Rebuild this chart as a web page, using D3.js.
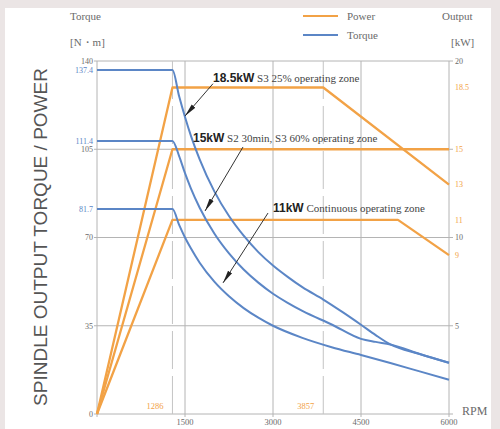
<!DOCTYPE html>
<html><head><meta charset="utf-8">
<script src="https://cdn.jsdelivr.net/npm/d3@7"></script>
<style>body{margin:0;background:#ebe5e5}svg{display:block}</style>
</head><body><script>
// ---- data ----
const rpmTicks = [1500, 3000, 4500, 6000];
const torqueTicks = [0, 35, 70, 105, 140];
const powerTicks = [5, 10, 20];
const powerMarks = [18.5, 15, 13, 11, 9];
const powerMarkLabels = ["18.5", "15", "13", "11", "9"];
const torqueMarks = [136.4, 108.3, 81.3];
const torqueMarkLabels = ["137.4", "111.4", "81.7"];
const speedMarks = [1286, 3857];
const speedMarkLabels = ["1286", "3857"];

const s3Power = [[0,0],[1286,18.5],[3857,18.5],[6000,13]];
const s2Power = [[0,0],[1286,15],[6000,15]];
const s1Power = [[0,0],[1286,11],[5130,11],[6000,9]];

const s3Torque = [[0,136.4],[1286,136.4],[1400,126],[1500,117.8],[1600,110.4],[1750,101],[2000,88.3],[2250,78.5],[2500,70.7],[2750,64.2],[3000,58.9],[3250,54.4],[3500,50.3],[3857,45.4],[4200,40.2],[4500,35.4],[4750,31.3],[5000,27.6],[5500,23.8],[6000,20.3]];
const s2Torque = [[0,108.3],[1286,108.3],[1400,102.3],[1500,95.5],[1600,89.5],[1750,81.8],[2000,71.6],[2250,63.7],[2500,57.3],[2750,52.1],[3000,47.7],[3250,44.1],[3500,40.9],[4000,35.5],[4500,29.8],[4750,28.6],[5000,27.6],[5500,23.8],[6000,20.3]];
const s1Torque = [[0,81.3],[1286,81.3],[1400,75],[1500,70],[1600,65.7],[1750,60],[2000,52.5],[2250,46.7],[2500,42],[2750,38.2],[3000,35],[3500,30.2],[4000,26.5],[4500,23.4],[5000,20.2],[5500,16.9],[6000,13.6]];

const zoneNames = ["18.5kW", "15kW", "11kW"];
const zoneTexts = [" S3 25% operating zone", " S2 30min, S3 60% operating zone", " Continuous operating zone"];
// annotation anchors in data space: [text rpm, text torque, arrow start rpm, torque, arrow tip rpm, torque]
const zoneAnchors = [[1977,131.7,1977,131,1500,118.2],[1636,107.9,2489,105.9,1841,80.5],[3000,80.1,2915,79.7,2148,52]];

// ---- chart ----
const W = 500, H = 429;
const svg = d3.select("body").append("svg").attr("width", W).attr("height", H);
svg.append("rect").attr("x",5).attr("y",8).attr("width",486).attr("height",421).attr("fill","#fff");

const x = d3.scaleLinear().domain([0,6000]).range([97,449]);
const yT = d3.scaleLinear().domain([0,140]).range([414,61]);
const yP = d3.scaleLinear().domain([0,20]).range([414,61]);

const ORANGE = "#f2a246", BLUE = "#5b86c6", GRID = "#b4b4b4", TXT = "#6a6a6a";
const serif = "'Liberation Serif','Times New Roman',serif";
const sans = "'Liberation Sans',Arial,sans-serif";

// gridlines
const g = svg.append("g");
g.selectAll(".hg").data(torqueTicks).join("line")
  .attr("x1", 94).attr("x2", 453).attr("y1", d=>yT(d)).attr("y2", d=>yT(d))
  .attr("stroke", GRID).attr("stroke-width", 1);
g.selectAll(".vg").data([0].concat(rpmTicks)).join("line")
  .attr("x1", d=>x(d)).attr("x2", d=>x(d)).attr("y1", yT(140)).attr("y2", 417)
  .attr("stroke", GRID).attr("stroke-width", 1);
g.selectAll(".dg").data(speedMarks).join("line")
  .attr("x1", d=>x(d)).attr("x2", d=>x(d)).attr("y1", yT(140)).attr("y2", 414)
  .attr("stroke", "#c4c4c4").attr("stroke-width", 1).attr("stroke-dasharray", "38,7");

// axis labels
const lbl = svg.append("g").attr("font-family", serif);
lbl.selectAll(".lt").data(torqueTicks).join("text")
  .attr("x", 93).attr("y", d=>yT(d)).attr("dy","0.35em").attr("text-anchor","end")
  .attr("font-size", 8).attr("fill", TXT).text(d=>d);
lbl.selectAll(".lm").data(torqueMarks).join("text")
  .attr("x", 93).attr("y", d=>yT(d)).attr("dy","0.35em").attr("text-anchor","end")
  .attr("font-size", 8).attr("fill", BLUE).text((d,i)=>torqueMarkLabels[i]);
lbl.selectAll(".rt").data(powerTicks).join("text")
  .attr("x", 455).attr("y", d=>yP(d)).attr("dy","0.35em")
  .attr("font-size", 8).attr("fill", TXT).text(d=>d);
lbl.selectAll(".rm").data(powerMarks).join("text")
  .attr("x", 455).attr("y", d=>yP(d)).attr("dy","0.35em")
  .attr("font-size", 8).attr("fill", ORANGE).text((d,i)=>powerMarkLabels[i]);
lbl.selectAll(".bt").data(rpmTicks).join("text")
  .attr("x", d=>x(d)).attr("y", 425).attr("text-anchor","middle")
  .attr("font-size", 8.5).attr("fill", TXT).text(d=>d);
lbl.selectAll(".sm").data(speedMarks).join("text")
  .attr("x", d=>x(d)-9).attr("y", 409).attr("text-anchor","end")
  .attr("font-size", 8.5).attr("fill", ORANGE).text((d,i)=>speedMarkLabels[i]);

lbl.append("text").attr("x",462).attr("y",415).attr("font-size",12).attr("fill",TXT).text("RPM");
lbl.append("text").attr("x",70).attr("y",20).attr("font-size",11).attr("fill",TXT).text("Torque");
lbl.append("text").attr("x",70).attr("y",46).attr("font-size",11).attr("fill",TXT).text("[N・m]");
lbl.append("text").attr("x",442).attr("y",20).attr("font-size",11).attr("fill",TXT).text("Output");
lbl.append("text").attr("x",451).attr("y",46).attr("font-size",11).attr("fill",TXT).text("[kW]");

// legend
const leg = [["Power", ORANGE, 16], ["Torque", BLUE, 35]];
leg.forEach(([t,c,yy])=>{
  svg.append("line").attr("x1",303).attr("x2",338).attr("y1",yy).attr("y2",yy).attr("stroke",c).attr("stroke-width",2);
  svg.append("text").attr("x",347).attr("y",yy).attr("dy","0.35em").attr("font-family",serif).attr("font-size",11).attr("fill",TXT).text(t);
});

// y title
svg.append("text").attr("transform","translate(47,237) rotate(-90)").attr("text-anchor","middle")
  .attr("font-family", sans).attr("font-size", 19).attr("fill", "#555").text("SPINDLE OUTPUT TORQUE / POWER");

// lines
const lineP = d3.line().x(d=>x(d[0])).y(d=>yP(d[1]));
const lineT = d3.line().x(d=>x(d[0])).y(d=>yT(d[1])).curve(d3.curveMonotoneX);
[s3Power, s2Power, s1Power].forEach(s=>{
  svg.append("path").datum(s).attr("d", lineP).attr("fill","none").attr("stroke",ORANGE).attr("stroke-width",2.3).attr("stroke-linejoin","round");
});
[s3Torque, s2Torque, s1Torque].forEach(s=>{
  svg.append("path").datum(s).attr("d", lineT).attr("fill","none").attr("stroke",BLUE).attr("stroke-width",2).attr("stroke-linejoin","round");
});

// annotations
svg.append("defs").append("marker").attr("id","ah").attr("markerUnits","userSpaceOnUse")
  .attr("markerWidth",14).attr("markerHeight",8).attr("refX",13).attr("refY",4).attr("orient","auto")
  .append("path").attr("d","M0,1.6 L13,4 L0,6.4 Z").attr("fill","#222");
zoneAnchors.forEach((a,i)=>{
  svg.append("line").attr("x1",x(a[2])).attr("y1",yT(a[3])).attr("x2",x(a[4])).attr("y2",yT(a[5]))
    .attr("stroke","#333").attr("stroke-width",1).attr("marker-end","url(#ah)");
  const t = svg.append("text").attr("x",x(a[0])).attr("y",yT(a[1]));
  t.append("tspan").attr("font-family",sans).attr("font-weight","bold").attr("font-size",12).attr("fill","#222").text(zoneNames[i]);
  t.append("tspan").attr("font-family",serif).attr("font-size",11).attr("fill","#444").text(zoneTexts[i]);
});
</script></body></html>
